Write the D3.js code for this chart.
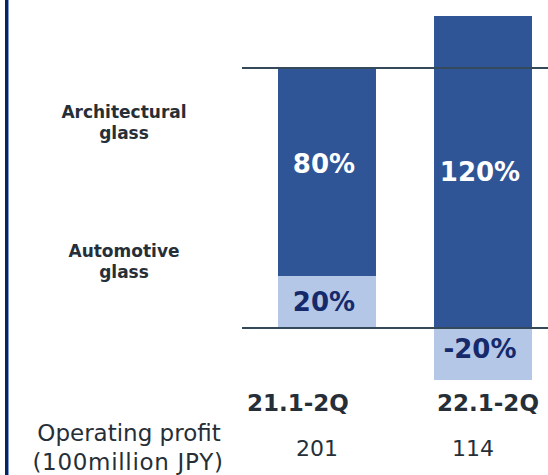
<!DOCTYPE html>
<html>
<head>
<meta charset="utf-8">
<script src="https://cdn.jsdelivr.net/npm/d3@7"></script>
<style>
  html, body { margin: 0; padding: 0; background: #fff; }
  svg { display: block; font-family: "DejaVu Sans", Verdana, sans-serif; }
</style>
</head>
<body>
<svg width="548" height="475"></svg>
<script>
let width = 548,
    height = 475;

// data
let periods = ["21.1-2Q", "22.1-2Q"];
let architectural = [80, 120];   // % share of change
let automotive = [20, -20];
let profit = [201, 114];        // operating profit, 100 million JPY
let segmentNames = ["Architectural\nglass", "Automotive\nglass"];

let rows = periods.map((p, i) => ({ period: p, automotive: automotive[i], architectural: architectural[i] }));

let svg = d3.select("svg");

let yScale = d3.scaleLinear()
  .domain([-20, 120])
  .range([380, 16]);

let xScale = d3.scaleBand()
  .domain(periods)
  .range([278, 532])
  .paddingInner(0.372)
  .paddingOuter(0);

let colors = { architectural: "#2f5597", automotive: "#b4c7e7" };
let labelColors = { architectural: "#ffffff", automotive: "#15296b" };

let series = d3.stack()
  .keys(["automotive", "architectural"])
  .offset(d3.stackOffsetDiverging)(rows);

// left frame line
svg.append("rect").attr("x", 5).attr("y", 0).attr("width", 3).attr("height", height).attr("fill", "#0c225f");
svg.append("rect").attr("x", 8).attr("y", 0).attr("width", 1).attr("height", height).attr("fill", "#7f9bd3");

// bars
series.forEach(s => {
  svg.append("g")
    .selectAll("rect")
    .data(s)
    .join("rect")
    .attr("x", d => xScale(d.data.period))
    .attr("width", xScale.bandwidth())
    .attr("y", d => yScale(Math.max(d[0], d[1])))
    .attr("height", d => Math.abs(yScale(d[0]) - yScale(d[1])))
    .attr("fill", colors[s.key]);
});

// reference lines at 100% and 0
[100, 0].forEach(v => {
  svg.append("line")
    .attr("x1", 242).attr("x2", width)
    .attr("y1", yScale(v)).attr("y2", yScale(v))
    .attr("stroke", "#34495a")
    .attr("stroke-width", 2);
});

// percentage labels in the bars
let dyFix = { "21.1-2Q": -8, "22.1-2Q": 0 };
series.forEach(s => {
  svg.append("g")
    .selectAll("text")
    .data(s)
    .join("text")
    .attr("x", d => xScale(d.data.period) + xScale.bandwidth() / 2 - 3)
    .attr("y", d => yScale((d[0] + d[1]) / 2) + 9 + (d.data[s.key] < 0 ? -5 : (s.key == "automotive" ? 0 : dyFix[d.data.period])))
    .attr("text-anchor", "middle")
    .attr("font-size", 26)
    .attr("font-weight", "bold")
    .attr("fill", labelColors[s.key])
    .text(d => d.data[s.key] + "%");
});

// segment names on the left
let namePos = [{ y: 118 }, { y: 257 }];
segmentNames.forEach((name, i) => {
  let t = svg.append("text")
    .attr("text-anchor", "middle")
    .attr("font-size", 17)
    .attr("font-weight", "bold")
    .attr("fill", "#262f38");
  name.split("\n").forEach((line, j) => {
    t.append("tspan")
      .attr("x", 124)
      .attr("y", namePos[i].y + j * 21)
      .text(line);
  });
});

// period labels
svg.append("g")
  .selectAll("text")
  .data(periods)
  .join("text")
  .attr("x", (d, i) => xScale(d) + xScale.bandwidth() / 2 + (i == 0 ? -29 : 5))
  .attr("y", 411)
  .attr("text-anchor", "middle")
  .attr("font-size", 23)
  .attr("font-weight", "bold")
  .attr("fill", "#262f38")
  .text(d => d);

// operating profit row
svg.append("g")
  .selectAll("text")
  .data(profit)
  .join("text")
  .attr("x", (d, i) => xScale(periods[i]) + xScale.bandwidth() / 2 - 10)
  .attr("y", 456)
  .attr("text-anchor", "middle")
  .attr("font-size", 22)
  .attr("fill", "#262f38")
  .text(d => d);

svg.append("text")
  .attr("x", 129)
  .attr("y", 441)
  .attr("text-anchor", "middle")
  .attr("font-size", 23)
  .attr("fill", "#262f38")
  .text("Operating profit");

svg.append("text")
  .attr("x", 128)
  .attr("y", 470)
  .attr("text-anchor", "middle")
  .attr("font-size", 23)
  .attr("letter-spacing", 0.7)
  .attr("fill", "#262f38")
  .text("(100million JPY)");
</script>
</body>
</html>
